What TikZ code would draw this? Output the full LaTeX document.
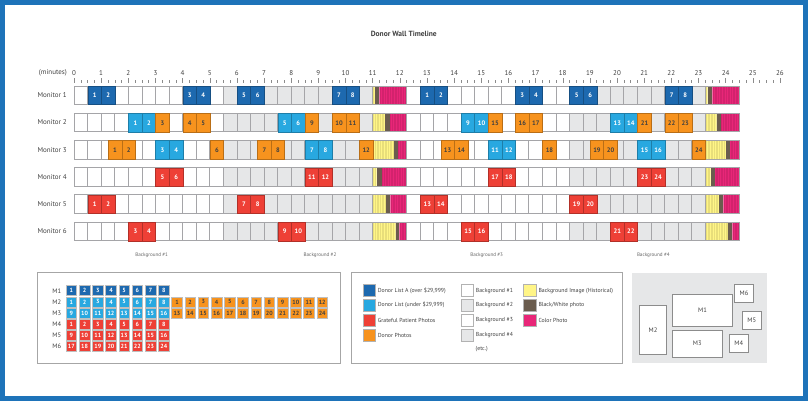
\documentclass[tikz,border=0pt]{standalone}
\usepackage{fontspec}
\setmainfont{PT Sans}
\usetikzlibrary{calc}

\definecolor{frameblue}{RGB}{30,115,185}
\definecolor{dkblue}{RGB}{29,105,175}
\definecolor{ltblue}{RGB}{40,168,224}
\definecolor{tred}{RGB}{238,64,54}
\definecolor{torange}{RGB}{247,147,30}
\definecolor{bgray}{RGB}{230,231,232}
\definecolor{cline}{RGB}{165,165,168}
\definecolor{hyellow}{RGB}{255,245,135}
\definecolor{bwbrown}{RGB}{106,92,78}
\definecolor{cpink}{RGB}{232,38,120}

\newcommand{\fsz}[1]{\fontsize{#1}{#1}\selectfont}

% striped strip: x from, x to, row top, colour
\newcommand{\stripes}[4]{%
  \begin{scope}
    \clip (#1,#3) rectangle (#2,#3+18.5);
    \fill[#4] (#1,#3) rectangle (#2,#3+18.5);
    \foreach \k in {0,...,21} \draw[#4!80!black, line width=0.2pt, opacity=0.45] (#1+0.06+\k*0.12,#3) -- ++(0,18.5);
  \end{scope}}

% photo block: row top, start, yellow end, brown end, end
\newcommand{\photoblock}[5]{%
  \stripes{#2}{#3}{#1}{hyellow}
  \fill[bwbrown] (#3,#1) rectangle (#4,#1+18.5);
  \stripes{#4}{#5}{#1}{cpink}
  \draw[cline, line width=0.7pt] (#2,#1) rectangle (#5,#1+18.5);}

\begin{document}
\begin{tikzpicture}[x=1pt,y=-1pt]
\tikzstyle{every node}=[font=\fsz{7}, inner sep=0pt, text=black!75]
\tikzstyle{slot}=[draw=cline, line width=0.7pt]
\tikzstyle{tile}=[anchor=north west, minimum width=13.575pt, minimum height=18.5pt, line width=0.7pt, font=\fsz{6.5}\bfseries]
\tikzstyle{tdk}=[tile, fill=dkblue, draw=dkblue!75!black, text=white]
\tikzstyle{tlb}=[tile, fill=ltblue, draw=ltblue!75!black, text=white]
\tikzstyle{trd}=[tile, fill=tred, draw=tred!75!black, text=white]
\tikzstyle{tor}=[tile, fill=torange, draw=torange!75!black, text=black!75]
\tikzstyle{lsq}=[minimum width=10.7pt, minimum height=10pt, draw=black!25, line width=0.6pt, font=\fsz{6}\bfseries, text=white]
\tikzstyle{lgsq}=[minimum width=12.2pt, minimum height=12pt, draw=black!30, line width=0.8pt]
\tikzstyle{scr}=[draw=black!45, fill=white, line width=0.7pt, font=\fsz{6.5}]

\useasboundingbox (0,0) rectangle (808,401);
\fill[white] (0,0) rectangle (808,401);
\draw[frameblue, line width=4.6pt] (2.3,2.3) rectangle (805.7,398.7);

\node[font=\fsz{7.5}\bfseries] (title) at (403.8,34.3) {Donor Wall Timeline};
\node[anchor=east] (minlbl) at (67,73) {(minutes)};

% ---- timeline, one unit = half a minute
\begin{scope}[shift={(74pt,0pt)}, x=13.575pt]

  % axis
  \foreach \k in {0,...,26} \node (ax\k) at (2*\k,73) {\k};
  \foreach \q in {0,...,104} {
    \pgfmathsetmacro\ytk{mod(\q,4)==0 ? 78.5 : 80.3}
    \draw[black!45, line width=0.4pt] (\q/2,\ytk) -- (\q/2,83.5);
  }

  % background slots
  \foreach \m in {1,...,6} {
    \pgfmathsetmacro\yt{86+27.2*(\m-1)}
    \foreach \o/\w in {0/10, 24.5/11} {
      \foreach \i in {0,...,21} {
        \ifnum\i>\w \def\bg{bgray}\else\def\bg{white}\fi
        \draw[slot, fill=\bg] (\o+\i,\yt) rectangle ++(1,18.5);
      }
    }
  }

  % photo blocks
  \foreach \m/\ya/\ba/\yb/\bb in {1/22.2/22.5/46.68/47.02, 2/22.9/23.25/47.34/47.64,
      3/23.57/23.84/48.03/48.33, 4/22.3/22.67/46.9/47.22,
      5/23.0/23.3/47.54/47.83, 6/23.7/23.96/48.2/48.5} {
    \pgfmathsetmacro\yt{86+27.2*(\m-1)}
    \photoblock{\yt}{22}{\ya}{\ba}{24.5}
    \photoblock{\yt}{46.5}{\yb}{\bb}{49}
  }

  % content tiles: monitor / slot / kind / first label / second label
  \foreach \m/\p/\s/\na/\nb [count=\k] in {
      1/1/tdk/1/1, 1/2/tdk/2/2, 1/8/tdk/3/3, 1/9/tdk/4/4,
      1/12/tdk/5/5, 1/13/tdk/6/6, 1/19/tdk/7/7, 1/20/tdk/8/8,
      2/4/tlb/1/9, 2/5/tlb/2/10, 2/6/tor/3/15, 2/8/tor/4/16, 2/9/tor/5/17,
      2/15/tlb/5/13, 2/16/tlb/6/14, 2/17/tor/9/21, 2/19/tor/10/22, 2/20/tor/11/23,
      3/2.5/tor/1/13, 3/3.5/tor/2/14, 3/6/tlb/3/11, 3/7/tlb/4/12, 3/10/tor/6/18,
      3/13.5/tor/7/19, 3/14.5/tor/8/20, 3/17/tlb/7/15, 3/18/tlb/8/16, 3/21/tor/12/24,
      4/6/trd/5/17, 4/7/trd/6/18, 4/17/trd/11/23, 4/18/trd/12/24,
      5/1/trd/1/13, 5/2/trd/2/14, 5/12/trd/7/19, 5/13/trd/8/20,
      6/4/trd/3/15, 6/5/trd/4/16, 6/15/trd/9/21, 6/16/trd/10/22} {
    \pgfmathsetmacro\yt{86+27.2*(\m-1)}
    \node[\s] (ta\k) at (\p,\yt) {\na};
    \node[\s] (tb\k) at (\p+24.5,\yt) {\nb};
  }
\end{scope}

% monitor names
\foreach \m in {1,...,6} {
  \pgfmathsetmacro\yt{86+27.2*(\m-1)}
  \node[anchor=east] (mon\m) at (67,\yt+9.3) {Monitor \m};
}

% background names
\foreach \x/\n in {151.7/1, 320/2, 486.7/3, 653.3/4}
  \node[font=\fsz{5.1}, text=black!60] (bgl\n) at (\x,255) {Background \#\n};

% ---- legend: slides per monitor
\draw[black!35, line width=0.8pt] (37.3,272.7) rectangle (340.7,363.3);
\foreach \m in {1,...,6} {
  \pgfmathsetmacro\yl{290.7+11.2*(\m-1)}
  \node[font=\fsz{6.5}] (lm\m) at (56.7,\yl) {M\m};
}
\foreach \n in {1,...,8} {
  \node[lsq, fill=dkblue] (ka\n) at (71.35+13.2*\n-13.2,290.7) {\n};
  \pgfmathtruncatemacro\nn{\n+8}
  \node[lsq, fill=ltblue] (kb\n) at (71.35+13.2*\n-13.2,301.9) {\n};
  \node[lsq, fill=ltblue] (kc\n) at (71.35+13.2*\n-13.2,313.1) {\nn};
  \pgfmathtruncatemacro\nr{\n+16}
  \node[lsq, fill=tred] (kd\n) at (71.35+13.2*\n-13.2,324.3) {\n};
  \node[lsq, fill=tred] (ke\n) at (71.35+13.2*\n-13.2,335.5) {\nn};
  \node[lsq, fill=tred] (kf\n) at (71.35+13.2*\n-13.2,346.7) {\nr};
}
\foreach \n in {1,...,12} {
  \pgfmathtruncatemacro\nn{\n+12}
  \node[lsq, fill=torange, text=black!75] (ko\n) at (71.35+13.2*\n+92.4,301.9) {\n};
  \node[lsq, fill=torange, text=black!75] (kp\n) at (71.35+13.2*\n+92.4,313.1) {\nn};
}

% ---- legend: colour key
\draw[black!35, line width=0.8pt] (351.7,272.7) rectangle (622.3,363.3);
\foreach \y/\c/\t [count=\k] in {290.7/dkblue/{Donor List A (over \$29,999)},
    305/ltblue/{Donor List (under \$29,999)}, 320/tred/{Grateful Patient Photos},
    335.3/torange/{Donor Photos}} {
  \node[lgsq, fill=\c] (ca\k) at (369.5,\y) {};
  \node[anchor=west, font=\fsz{5.8}] (ta\k) at (377.7,\y) {\t};
}
\foreach \y/\c [count=\k] in {290.7/white, 305/bgray, 320/white, 335.3/bgray} {
  \node[lgsq, fill=\c] (cb\k) at (467.5,\y) {};
  \node[anchor=west, font=\fsz{5.8}] (tb\k) at (475.7,\y) {Background \#\k};
}
\node[font=\fsz{5.8}] (etc) at (481.7,349.3) {(etc.)};
\foreach \y/\c/\t [count=\k] in {290.7/hyellow/{Background Image (Historical)},
    305/bwbrown/{Black{/}White photo}, 320/cpink/{Color Photo}} {
  \node[lgsq, fill=\c] (cc\k) at (529.9,\y) {};
  \node[anchor=west, font=\fsz{5.8}] (tc\k) at (538.3,\y) {\t};
}

% ---- legend: wall layout
\fill[bgray] (632.3,273.3) rectangle (766.7,363.3);
\node[scr, minimum width=59.6pt, minimum height=32.7pt] (s1) at (702.5,310.4) {M1};
\node[scr, minimum width=27.4pt, minimum height=49.3pt] (s2) at (653,329.7) {M2};
\node[scr, minimum width=50pt, minimum height=26.7pt] (s3) at (697.3,343.7) {M3};
\node[scr, minimum width=19pt, minimum height=18.4pt] (s4) at (738.8,343.5) {M4};
\node[scr, minimum width=18.7pt, minimum height=18.3pt] (s5) at (751.7,320.2) {M5};
\node[scr, minimum width=19.4pt, minimum height=18.3pt] (s6) at (744,293.2) {M6};

\end{tikzpicture}
\end{document}
